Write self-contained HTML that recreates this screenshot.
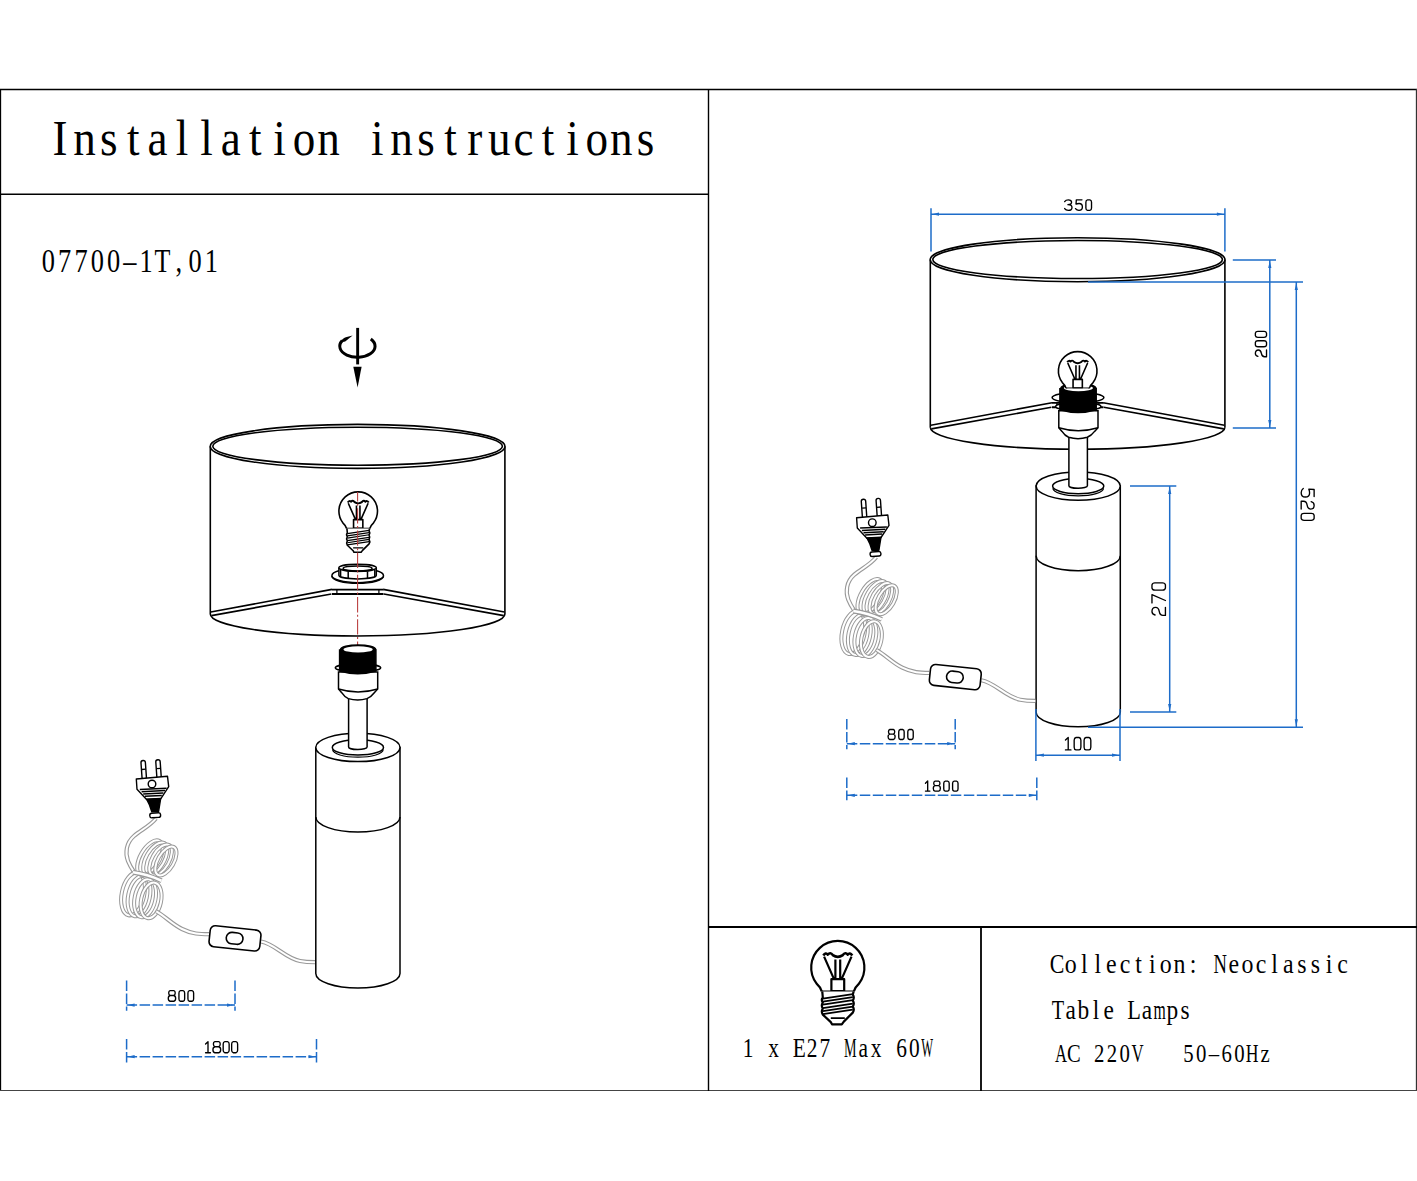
<!DOCTYPE html>
<html><head><meta charset="utf-8"><title>Installation instructions</title>
<style>html,body{margin:0;padding:0;background:#fff;width:1417px;height:1181px;overflow:hidden;}svg{display:block;}</style>
</head><body>
<svg width="1417" height="1181" viewBox="0 0 1417 1181">
<g stroke="#000" fill="none">
<line x1="0" y1="89.5" x2="1417" y2="89.5" stroke-width="1.3"/>
<line x1="0.5" y1="89" x2="0.5" y2="1091" stroke-width="1.3"/>
<line x1="1416.5" y1="89" x2="1416.5" y2="1091" stroke-width="1.3" stroke="#333"/>
<line x1="0" y1="1090.5" x2="1417" y2="1090.5" stroke-width="1.2" stroke="#444"/>
<line x1="708.5" y1="89" x2="708.5" y2="1091" stroke-width="1.4"/>
<line x1="0" y1="194.2" x2="708.5" y2="194.2" stroke-width="1.6"/>
<line x1="708" y1="927" x2="1417" y2="927" stroke-width="1.8"/>
<line x1="981" y1="927" x2="981" y2="1091" stroke-width="1.8"/>
</g>
<g font-family="Liberation Serif" font-size="50.08" text-anchor="middle" fill="#000"><text transform="translate(60.00 155.00) scale(0.900 1)">I</text><text transform="translate(84.40 155.00) scale(0.900 1)">n</text><text transform="translate(108.80 155.00) scale(0.900 1)">s</text><text transform="translate(133.20 155.00) scale(0.900 1)">t</text><text transform="translate(157.60 155.00) scale(0.900 1)">a</text><text transform="translate(182.00 155.00) scale(0.900 1)">l</text><text transform="translate(206.40 155.00) scale(0.900 1)">l</text><text transform="translate(230.80 155.00) scale(0.900 1)">a</text><text transform="translate(255.20 155.00) scale(0.900 1)">t</text><text transform="translate(279.60 155.00) scale(0.900 1)">i</text><text transform="translate(304.00 155.00) scale(0.900 1)">o</text><text transform="translate(328.40 155.00) scale(0.900 1)">n</text><text transform="translate(377.20 155.00) scale(0.900 1)">i</text><text transform="translate(401.60 155.00) scale(0.900 1)">n</text><text transform="translate(426.00 155.00) scale(0.900 1)">s</text><text transform="translate(450.40 155.00) scale(0.900 1)">t</text><text transform="translate(474.80 155.00) scale(0.900 1)">r</text><text transform="translate(499.20 155.00) scale(0.900 1)">u</text><text transform="translate(523.60 155.00) scale(0.900 1)">c</text><text transform="translate(548.00 155.00) scale(0.900 1)">t</text><text transform="translate(572.40 155.00) scale(0.900 1)">i</text><text transform="translate(596.80 155.00) scale(0.900 1)">o</text><text transform="translate(621.20 155.00) scale(0.900 1)">n</text><text transform="translate(645.60 155.00) scale(0.900 1)">s</text></g>
<g font-family="Liberation Serif" font-size="32.98" text-anchor="middle" fill="#000"><text transform="translate(48.40 272.20) scale(0.800 1)">0</text><text transform="translate(64.70 272.20) scale(0.800 1)">7</text><text transform="translate(81.00 272.20) scale(0.800 1)">7</text><text transform="translate(97.30 272.20) scale(0.800 1)">0</text><text transform="translate(113.60 272.20) scale(0.800 1)">0</text><text transform="translate(129.90 272.20) scale(0.800 1)">–</text><text transform="translate(146.20 272.20) scale(0.800 1)">1</text><text transform="translate(162.50 272.20) scale(0.789 1)">T</text><text transform="translate(178.80 272.20) scale(0.800 1)">,</text><text transform="translate(195.10 272.20) scale(0.800 1)">0</text><text transform="translate(211.40 272.20) scale(0.800 1)">1</text></g>
<g font-family="Liberation Serif" font-size="26.72" text-anchor="middle" fill="#000"><text transform="translate(748.00 1056.70) scale(0.800 1)">1</text><text transform="translate(773.60 1056.70) scale(0.800 1)">x</text><text transform="translate(799.20 1056.70) scale(0.800 1)">E</text><text transform="translate(812.00 1056.70) scale(0.800 1)">2</text><text transform="translate(824.80 1056.70) scale(0.800 1)">7</text><text transform="translate(850.40 1056.70) scale(0.530 1)">M</text><text transform="translate(863.20 1056.70) scale(0.800 1)">a</text><text transform="translate(876.00 1056.70) scale(0.800 1)">x</text><text transform="translate(901.60 1056.70) scale(0.800 1)">6</text><text transform="translate(914.40 1056.70) scale(0.800 1)">0</text><text transform="translate(927.20 1056.70) scale(0.468 1)">W</text></g>
<g font-family="Liberation Serif" font-size="28.09" text-anchor="middle" fill="#000"><text transform="translate(1057.00 972.50) scale(0.780 1)">C</text><text transform="translate(1070.60 972.50) scale(0.850 1)">o</text><text transform="translate(1084.20 972.50) scale(0.850 1)">l</text><text transform="translate(1097.80 972.50) scale(0.850 1)">l</text><text transform="translate(1111.40 972.50) scale(0.850 1)">e</text><text transform="translate(1125.00 972.50) scale(0.850 1)">c</text><text transform="translate(1138.60 972.50) scale(0.850 1)">t</text><text transform="translate(1152.20 972.50) scale(0.850 1)">i</text><text transform="translate(1165.80 972.50) scale(0.850 1)">o</text><text transform="translate(1179.40 972.50) scale(0.850 1)">n</text><text transform="translate(1193.00 972.50) scale(0.850 1)">:</text><text transform="translate(1220.20 972.50) scale(0.664 1)">N</text><text transform="translate(1233.80 972.50) scale(0.850 1)">e</text><text transform="translate(1247.40 972.50) scale(0.850 1)">o</text><text transform="translate(1261.00 972.50) scale(0.850 1)">c</text><text transform="translate(1274.60 972.50) scale(0.850 1)">l</text><text transform="translate(1288.20 972.50) scale(0.850 1)">a</text><text transform="translate(1301.80 972.50) scale(0.850 1)">s</text><text transform="translate(1315.40 972.50) scale(0.850 1)">s</text><text transform="translate(1329.00 972.50) scale(0.850 1)">i</text><text transform="translate(1342.60 972.50) scale(0.850 1)">c</text></g>
<g font-family="Liberation Serif" font-size="27.48" text-anchor="middle" fill="#000"><text transform="translate(1058.00 1019.00) scale(0.738 1)">T</text><text transform="translate(1070.70 1019.00) scale(0.850 1)">a</text><text transform="translate(1083.40 1019.00) scale(0.850 1)">b</text><text transform="translate(1096.10 1019.00) scale(0.850 1)">l</text><text transform="translate(1108.80 1019.00) scale(0.850 1)">e</text><text transform="translate(1134.20 1019.00) scale(0.815 1)">L</text><text transform="translate(1146.90 1019.00) scale(0.850 1)">a</text><text transform="translate(1159.60 1019.00) scale(0.574 1)">m</text><text transform="translate(1172.30 1019.00) scale(0.850 1)">p</text><text transform="translate(1185.00 1019.00) scale(0.850 1)">s</text></g>
<g font-family="Liberation Serif" font-size="25.95" text-anchor="middle" fill="#000"><text transform="translate(1061.00 1062.00) scale(0.641 1)">A</text><text transform="translate(1073.75 1062.00) scale(0.792 1)">C</text><text transform="translate(1099.25 1062.00) scale(0.800 1)">2</text><text transform="translate(1112.00 1062.00) scale(0.800 1)">2</text><text transform="translate(1124.75 1062.00) scale(0.800 1)">0</text><text transform="translate(1137.50 1062.00) scale(0.646 1)">V</text><text transform="translate(1188.50 1062.00) scale(0.800 1)">5</text><text transform="translate(1201.25 1062.00) scale(0.800 1)">0</text><text transform="translate(1214.00 1062.00) scale(0.800 1)">–</text><text transform="translate(1226.75 1062.00) scale(0.800 1)">6</text><text transform="translate(1239.50 1062.00) scale(0.800 1)">0</text><text transform="translate(1252.25 1062.00) scale(0.681 1)">H</text><text transform="translate(1265.00 1062.00) scale(0.800 1)">z</text></g>
<defs><g id="bulb" fill="none" stroke="#000" stroke-width="2.2" stroke-linejoin="round">
<path d="M-16,23.9 Q-17,19.8 -21.2,16 A26.6,26.6 0 1 1 21.2,16 Q17,19.8 16,23.9" fill="#fff"/>
<path d="M-13.7,-11 L-4,11 M13.7,-11 L4,11 M-2.4,-8 L-2.4,11.6 M2.4,-8 L2.4,11.6"/>
<path d="M-14.5,-12 Q-12,-15.5 -10,-13 Q-7.5,-16 -5,-12.5 Q0,-9 5,-12.5 Q7.5,-16 10,-13 Q12,-15.5 14.5,-12" stroke-width="2.6"/>
<rect x="-6.4" y="11.6" width="12.8" height="12" fill="#fff"/>
<path d="M-16,24.2 L16,24.2" stroke-width="2.8"/>
<path d="M-15.5,24 L-15,30 Q-17,32 -15,35 Q-17,38 -15,41 Q-17,44 -15,47 L-7,54.5 L-5.8,56.7 L4,56.7 L6,54 L15,45 Q17,42 15,39 Q17,36 15,33 Q17,30 15,27 L15.8,24" fill="#fff"/>
<path d="M-15,31 L15,26.5 M-15,34 L15,29.5 M-15,37 L15,32.5 M-15,40.5 L15,36 M-15,43.5 L15,39 M-15,46.5 L15,42 M-7,50.5 L7,50.5" stroke-width="1.7"/>
</g></defs>
<g id="shade" fill="none" stroke="#000" stroke-width="1.6">
<ellipse cx="357.6" cy="446.4" rx="147.4" ry="22"/>
<ellipse cx="357.6" cy="446.2" rx="144.8" ry="19"/>
<line x1="210.3" y1="446.4" x2="210.3" y2="614"/>
<line x1="504.9" y1="446.4" x2="504.9" y2="614"/>
<path d="M210.3,614 A147.3,22 0 0 0 504.9,614"/>
<path d="M210.8,612 L332,589.4 M211.4,615.6 L331.4,594 M504.4,612 L383.2,589.4 M503.8,615.6 L383.8,594"/>
<path d="M332,589.6 L383.5,589.6 M332,594 L383.5,594" stroke-width="1.9"/>
<path d="M336.9,589.6 L336.9,594 M378.9,589.6 L378.9,594" stroke-width="1.2"/>
</g>
<g id="nut" fill="#fff" stroke="#000" stroke-width="1.5">
<path d="M331.9,576 A25.8,7.3 0 0 0 383.5,576" fill="none"/>
<ellipse cx="357.7" cy="575.5" rx="25.8" ry="7.2"/>
<path d="M338.9,567.8 L338.9,575.3 A18.7,3.6 0 0 0 376.3,575.3 L376.3,567.8"/>
<ellipse cx="357.6" cy="567.8" rx="18.7" ry="3.5"/>
<ellipse cx="357.6" cy="568.4" rx="14.5" ry="2.5" fill="none"/>
<path d="M343.5,569.5 A14.1,2.2 0 0 0 371.7,569.5" fill="none" stroke-width="1"/>
<path d="M348.2,571.5 L348.2,578.8 M367.5,571.5 L367.5,578.8 M340.6,570 L340.6,577 M374.8,570 L374.8,577" fill="none"/>
</g>
<use href="#bulb" transform="translate(358.2 511.2) scale(0.725)"/>
<line x1="357.6" y1="492" x2="357.6" y2="645.5" stroke="#b83a3a" stroke-width="1.05" stroke-dasharray="15.4 2.4 2 2.4" stroke-dashoffset="6"/>
<g id="base" fill="#fff" stroke="#000" stroke-width="1.5">
<path d="M315.8,747.4 L315.8,973.5 A42.1,14.5 0 0 0 400,973.5 L400,747.4 Z"/>
<ellipse cx="357.9" cy="747.4" rx="42.1" ry="14.2"/>
<path d="M315.8,817 A42.1,15 0 0 0 400,817" fill="none"/>
<ellipse cx="357.9" cy="747.4" rx="25.6" ry="7.6"/>
<path d="M332.6,749.6 A25.3,7.6 0 0 0 383.2,749.6" fill="none" stroke-width="1.2"/>
<path d="M348.6,698 L348.6,747 A9.25,2.6 0 0 0 367.1,747 L367.1,698 Z"/>
<ellipse cx="358" cy="667.8" rx="22.7" ry="3.7"/>
<path d="M338.5,672 L338.5,689 L341.7,692.7 Q344.5,697 348.3,698.6 Q357.8,701.5 367,698.6 Q371,697 374.3,692.7 L377.7,689 L377.7,672 Z"/>
<path d="M338.5,689 Q358,695 377.7,689" fill="none"/>
<path d="M339.6,650 L339.6,671 Q357.8,676.5 375.9,671 L375.9,650 Z" fill="#000"/>
<ellipse cx="358.1" cy="649.3" rx="17.5" ry="4.3" fill="#000"/>
<ellipse cx="358.1" cy="649.4" rx="14.6" ry="3.1" fill="#fff" stroke="none"/>
</g>
<g id="cord">
<path d="M156,818.5 C150,826 141,830 134,836 C126,843 125,853 128,861 C130,866 132,869 134,872" fill="none" stroke="#999999" stroke-width="4.20" stroke-linecap="butt"/><path d="M156,818.5 C150,826 141,830 134,836 C126,843 125,853 128,861 C130,866 132,869 134,872" fill="none" stroke="#fff" stroke-width="2.00" stroke-linecap="butt"/>
<g fill="none" stroke="#999999" stroke-width="4.0"><ellipse cx="133.00" cy="894.00" rx="11.25" ry="21.70" transform="rotate(12.0 133.00 894.00)"/></g><g fill="none" stroke="#fff" stroke-width="2.0"><ellipse cx="133.00" cy="894.00" rx="11.25" ry="21.70" transform="rotate(12.0 133.00 894.00)"/></g>
<g fill="none" stroke="#999999" stroke-width="4.0"><ellipse cx="139.03" cy="896.13" rx="10.83" ry="20.50" transform="rotate(12.0 139.03 896.13)"/></g><g fill="none" stroke="#fff" stroke-width="2.0"><ellipse cx="139.03" cy="896.13" rx="10.83" ry="20.50" transform="rotate(12.0 139.03 896.13)"/></g>
<g fill="none" stroke="#999999" stroke-width="4.0"><ellipse cx="145.07" cy="898.27" rx="10.42" ry="19.30" transform="rotate(12.0 145.07 898.27)"/></g><g fill="none" stroke="#fff" stroke-width="2.0"><ellipse cx="145.07" cy="898.27" rx="10.42" ry="19.30" transform="rotate(12.0 145.07 898.27)"/></g>
<g fill="none" stroke="#999999" stroke-width="4.0"><ellipse cx="151.10" cy="900.40" rx="10.00" ry="18.10" transform="rotate(12.0 151.10 900.40)"/></g><g fill="none" stroke="#fff" stroke-width="2.0"><ellipse cx="151.10" cy="900.40" rx="10.00" ry="18.10" transform="rotate(12.0 151.10 900.40)"/></g>
<g fill="none" stroke="#999999" stroke-width="4.0"><ellipse cx="149.90" cy="857.80" rx="9.60" ry="19.30" transform="rotate(30.0 149.90 857.80)"/></g><g fill="none" stroke="#fff" stroke-width="2.0"><ellipse cx="149.90" cy="857.80" rx="9.60" ry="19.30" transform="rotate(30.0 149.90 857.80)"/></g>
<g fill="none" stroke="#999999" stroke-width="4.0"><ellipse cx="155.23" cy="858.87" rx="9.07" ry="18.23" transform="rotate(30.0 155.23 858.87)"/></g><g fill="none" stroke="#fff" stroke-width="2.0"><ellipse cx="155.23" cy="858.87" rx="9.07" ry="18.23" transform="rotate(30.0 155.23 858.87)"/></g>
<g fill="none" stroke="#999999" stroke-width="4.0"><ellipse cx="160.57" cy="859.93" rx="8.53" ry="17.17" transform="rotate(30.0 160.57 859.93)"/></g><g fill="none" stroke="#fff" stroke-width="2.0"><ellipse cx="160.57" cy="859.93" rx="8.53" ry="17.17" transform="rotate(30.0 160.57 859.93)"/></g>
<g fill="none" stroke="#999999" stroke-width="4.0"><ellipse cx="165.90" cy="861.00" rx="8.00" ry="16.10" transform="rotate(30.0 165.90 861.00)"/></g><g fill="none" stroke="#fff" stroke-width="2.0"><ellipse cx="165.90" cy="861.00" rx="8.00" ry="16.10" transform="rotate(30.0 165.90 861.00)"/></g>
<path d="M133,872.3 Q147,874 161.5,880.7" fill="none" stroke="#999999" stroke-width="4.80" stroke-linecap="butt"/><path d="M133,872.3 Q147,874 161.5,880.7" fill="none" stroke="#fff" stroke-width="2.60" stroke-linecap="butt"/>
<path d="M156.3,911.3 C166,917 172,924 182,929 C192,934 200,934.2 209,934.2" fill="none" stroke="#999999" stroke-width="4.20" stroke-linecap="butt"/><path d="M156.3,911.3 C166,917 172,924 182,929 C192,934 200,934.2 209,934.2" fill="none" stroke="#fff" stroke-width="2.00" stroke-linecap="butt"/>
<path d="M261,941.5 C275,944 285,958 300,961 C306,962.2 311,962.2 315,962.2" fill="none" stroke="#999999" stroke-width="4.20" stroke-linecap="butt"/><path d="M261,941.5 C275,944 285,958 300,961 C306,962.2 311,962.2 315,962.2" fill="none" stroke="#fff" stroke-width="2.00" stroke-linecap="butt"/>
<g transform="rotate(6 235 938.4)" fill="#fff" stroke="#000" stroke-width="1.6"><rect x="209.5" y="927.9" width="51" height="21" rx="5"/><rect x="226.2" y="932.7" width="16.8" height="11.4" rx="5.7"/></g>
<g stroke="#000" stroke-width="1.4" fill="#fff" stroke-linejoin="round">
<rect x="141.5" y="760.5" width="4.4" height="19" rx="2.2" transform="rotate(-4 143.7 770)"/>
<rect x="156.3" y="759.7" width="4.4" height="19" rx="2.2" transform="rotate(-4 158.5 769.2)"/>
<path d="M141.8,769.5 L145.8,769.2 M156.6,768.6 L160.6,768.3" stroke-width="1.3"/>
<path d="M136.3,779 L167.5,776.3 L168.7,786.6 L160.7,798.8 L146.6,799.5 L137,789.3 Z"/>
<path d="M146.6,799.2 L160.7,798.5 Q159.5,806 158.6,811.5 L151.8,811.8 Q150,805 146.6,799.2 Z" fill="#000"/>
<circle cx="152" cy="784" r="3.8"/>
<path d="M139.8,789.4 L166.6,788.3 M141.6,791.7 L165,790.6 M143.2,794 L163.4,793 M144.8,796.3 L161.8,795.4" stroke-width="1.5" fill="none"/>
<rect x="149.8" y="813" width="10.8" height="4.6" rx="2" transform="rotate(-4 155 815.3)"/>
</g>
</g>
<g id="rot">
<rect x="356.2" y="327.9" width="2.9" height="36.5" fill="#000"/>
<polygon points="353.3,366.7 361.6,366.7 357.6,387.6" fill="#000"/>
<path d="M370.8,339 A17.65,11.06 0 1 1 342.2,340.6" fill="none" stroke="#000" stroke-width="3"/>
<path d="M340.6,342.6 Q342,338.6 345.8,337.2 L352.6,335.6 L345.2,341.6 Z" fill="#000"/>
</g>
<g transform="translate(720 -186.7)"><g  fill="none" stroke="#000" stroke-width="1.6">
<ellipse cx="357.6" cy="446.4" rx="147.4" ry="22"/>
<ellipse cx="357.6" cy="446.2" rx="144.8" ry="19"/>
<line x1="210.3" y1="446.4" x2="210.3" y2="614"/>
<line x1="504.9" y1="446.4" x2="504.9" y2="614"/>
<path d="M210.3,614 A147.3,22 0 0 0 504.9,614"/>
<path d="M210.8,612 L332,589.4 M211.4,615.6 L331.4,594 M504.4,612 L383.2,589.4 M503.8,615.6 L383.8,594"/>
<path d="M332,589.6 L383.5,589.6 M332,594 L383.5,594" stroke-width="1.9"/>
<path d="M336.9,589.6 L336.9,594 M378.9,589.6 L378.9,594" stroke-width="1.2"/>
</g></g>
<g transform="translate(720.3 -261.3)"><g id="flanger" fill="#fff" stroke="#000" stroke-width="1.5">
<ellipse cx="357.7" cy="658.9" rx="25.9" ry="5.1"/>
</g><g  fill="#fff" stroke="#000" stroke-width="1.5">
<path d="M315.8,747.4 L315.8,973.5 A42.1,14.5 0 0 0 400,973.5 L400,747.4 Z"/>
<ellipse cx="357.9" cy="747.4" rx="42.1" ry="14.2"/>
<path d="M315.8,817 A42.1,15 0 0 0 400,817" fill="none"/>
<ellipse cx="357.9" cy="747.4" rx="25.6" ry="7.6"/>
<path d="M332.6,749.6 A25.3,7.6 0 0 0 383.2,749.6" fill="none" stroke-width="1.2"/>
<path d="M348.6,698 L348.6,747 A9.25,2.6 0 0 0 367.1,747 L367.1,698 Z"/>
<ellipse cx="358" cy="667.8" rx="22.7" ry="3.7"/>
<path d="M338.5,672 L338.5,689 L341.7,692.7 Q344.5,697 348.3,698.6 Q357.8,701.5 367,698.6 Q371,697 374.3,692.7 L377.7,689 L377.7,672 Z"/>
<path d="M338.5,689 Q358,695 377.7,689" fill="none"/>
<path d="M339.6,650 L339.6,671 Q357.8,676.5 375.9,671 L375.9,650 Z" fill="#000"/>
<ellipse cx="358.1" cy="649.3" rx="17.5" ry="4.3" fill="#000"/>
<ellipse cx="358.1" cy="649.4" rx="14.6" ry="3.1" fill="#fff" stroke="none"/>
</g><g >
<path d="M156,818.5 C150,826 141,830 134,836 C126,843 125,853 128,861 C130,866 132,869 134,872" fill="none" stroke="#999999" stroke-width="4.20" stroke-linecap="butt"/><path d="M156,818.5 C150,826 141,830 134,836 C126,843 125,853 128,861 C130,866 132,869 134,872" fill="none" stroke="#fff" stroke-width="2.00" stroke-linecap="butt"/>
<g fill="none" stroke="#999999" stroke-width="4.0"><ellipse cx="133.00" cy="894.00" rx="11.25" ry="21.70" transform="rotate(12.0 133.00 894.00)"/></g><g fill="none" stroke="#fff" stroke-width="2.0"><ellipse cx="133.00" cy="894.00" rx="11.25" ry="21.70" transform="rotate(12.0 133.00 894.00)"/></g>
<g fill="none" stroke="#999999" stroke-width="4.0"><ellipse cx="139.03" cy="896.13" rx="10.83" ry="20.50" transform="rotate(12.0 139.03 896.13)"/></g><g fill="none" stroke="#fff" stroke-width="2.0"><ellipse cx="139.03" cy="896.13" rx="10.83" ry="20.50" transform="rotate(12.0 139.03 896.13)"/></g>
<g fill="none" stroke="#999999" stroke-width="4.0"><ellipse cx="145.07" cy="898.27" rx="10.42" ry="19.30" transform="rotate(12.0 145.07 898.27)"/></g><g fill="none" stroke="#fff" stroke-width="2.0"><ellipse cx="145.07" cy="898.27" rx="10.42" ry="19.30" transform="rotate(12.0 145.07 898.27)"/></g>
<g fill="none" stroke="#999999" stroke-width="4.0"><ellipse cx="151.10" cy="900.40" rx="10.00" ry="18.10" transform="rotate(12.0 151.10 900.40)"/></g><g fill="none" stroke="#fff" stroke-width="2.0"><ellipse cx="151.10" cy="900.40" rx="10.00" ry="18.10" transform="rotate(12.0 151.10 900.40)"/></g>
<g fill="none" stroke="#999999" stroke-width="4.0"><ellipse cx="149.90" cy="857.80" rx="9.60" ry="19.30" transform="rotate(30.0 149.90 857.80)"/></g><g fill="none" stroke="#fff" stroke-width="2.0"><ellipse cx="149.90" cy="857.80" rx="9.60" ry="19.30" transform="rotate(30.0 149.90 857.80)"/></g>
<g fill="none" stroke="#999999" stroke-width="4.0"><ellipse cx="155.23" cy="858.87" rx="9.07" ry="18.23" transform="rotate(30.0 155.23 858.87)"/></g><g fill="none" stroke="#fff" stroke-width="2.0"><ellipse cx="155.23" cy="858.87" rx="9.07" ry="18.23" transform="rotate(30.0 155.23 858.87)"/></g>
<g fill="none" stroke="#999999" stroke-width="4.0"><ellipse cx="160.57" cy="859.93" rx="8.53" ry="17.17" transform="rotate(30.0 160.57 859.93)"/></g><g fill="none" stroke="#fff" stroke-width="2.0"><ellipse cx="160.57" cy="859.93" rx="8.53" ry="17.17" transform="rotate(30.0 160.57 859.93)"/></g>
<g fill="none" stroke="#999999" stroke-width="4.0"><ellipse cx="165.90" cy="861.00" rx="8.00" ry="16.10" transform="rotate(30.0 165.90 861.00)"/></g><g fill="none" stroke="#fff" stroke-width="2.0"><ellipse cx="165.90" cy="861.00" rx="8.00" ry="16.10" transform="rotate(30.0 165.90 861.00)"/></g>
<path d="M133,872.3 Q147,874 161.5,880.7" fill="none" stroke="#999999" stroke-width="4.80" stroke-linecap="butt"/><path d="M133,872.3 Q147,874 161.5,880.7" fill="none" stroke="#fff" stroke-width="2.60" stroke-linecap="butt"/>
<path d="M156.3,911.3 C166,917 172,924 182,929 C192,934 200,934.2 209,934.2" fill="none" stroke="#999999" stroke-width="4.20" stroke-linecap="butt"/><path d="M156.3,911.3 C166,917 172,924 182,929 C192,934 200,934.2 209,934.2" fill="none" stroke="#fff" stroke-width="2.00" stroke-linecap="butt"/>
<path d="M261,941.5 C275,944 285,958 300,961 C306,962.2 311,962.2 315,962.2" fill="none" stroke="#999999" stroke-width="4.20" stroke-linecap="butt"/><path d="M261,941.5 C275,944 285,958 300,961 C306,962.2 311,962.2 315,962.2" fill="none" stroke="#fff" stroke-width="2.00" stroke-linecap="butt"/>
<g transform="rotate(6 235 938.4)" fill="#fff" stroke="#000" stroke-width="1.6"><rect x="209.5" y="927.9" width="51" height="21" rx="5"/><rect x="226.2" y="932.7" width="16.8" height="11.4" rx="5.7"/></g>
<g stroke="#000" stroke-width="1.4" fill="#fff" stroke-linejoin="round">
<rect x="141.5" y="760.5" width="4.4" height="19" rx="2.2" transform="rotate(-4 143.7 770)"/>
<rect x="156.3" y="759.7" width="4.4" height="19" rx="2.2" transform="rotate(-4 158.5 769.2)"/>
<path d="M141.8,769.5 L145.8,769.2 M156.6,768.6 L160.6,768.3" stroke-width="1.3"/>
<path d="M136.3,779 L167.5,776.3 L168.7,786.6 L160.7,798.8 L146.6,799.5 L137,789.3 Z"/>
<path d="M146.6,799.2 L160.7,798.5 Q159.5,806 158.6,811.5 L151.8,811.8 Q150,805 146.6,799.2 Z" fill="#000"/>
<circle cx="152" cy="784" r="3.8"/>
<path d="M139.8,789.4 L166.6,788.3 M141.6,791.7 L165,790.6 M143.2,794 L163.4,793 M144.8,796.3 L161.8,795.4" stroke-width="1.5" fill="none"/>
<rect x="149.8" y="813" width="10.8" height="4.6" rx="2" transform="rotate(-4 155 815.3)"/>
</g>
</g></g>
<clipPath id="bclip"><rect x="1040" y="340" width="80" height="48.5"/></clipPath>
<g clip-path="url(#bclip)"><use href="#bulb" transform="translate(1077.7 371) scale(0.725)"/></g>
<use href="#bulb" transform="translate(837.8 967.6)"/>
<g stroke="#1d6cc9" stroke-width="1.5" fill="none" stroke-dasharray="10.5 2.5">
<line x1="126.60" y1="1005.10" x2="235.00" y2="1005.10"/>
<line x1="126.60" y1="980.40" x2="126.60" y2="1010.80"/>
<line x1="235.00" y1="980.40" x2="235.00" y2="1010.80"/>
</g>
<polygon points="127.60,1005.10 134.60,1003.50 134.60,1006.70" fill="#1d6cc9"/>
<polygon points="234.00,1005.10 227.00,1006.70 227.00,1003.50" fill="#1d6cc9"/>
<g transform="translate(180.95 995.95) rotate(0)" fill="none" stroke="#000" stroke-width="1.35" stroke-linejoin="round" stroke-linecap="round"><path transform="translate(-12.68 -5.28) scale(1.0550)" d="M1.7,0 L5.3,0 Q6.6,0.3 6.6,2.2 Q6.6,4.3 5.1,4.6 L1.9,4.6 Q0.4,4.3 0.4,2.2 Q0.4,0.3 1.7,0 Z M1.9,4.6 L5.1,4.6 Q7,4.9 7,7.3 Q7,9.7 5.3,10 L1.7,10 Q0,9.7 0,7.3 Q0,4.9 1.9,4.6 Z" vector-effect="non-scaling-stroke"/><path transform="translate(-2.00 -5.28) scale(1.0550)" d="M1.5,0 L3.9,0 Q5.4,0.3 5.4,2.2 L5.4,7.8 Q5.4,9.7 3.9,10 L1.5,10 Q0,9.7 0,7.8 L0,2.2 Q0,0.3 1.5,0 Z" vector-effect="non-scaling-stroke"/><path transform="translate(6.98 -5.28) scale(1.0550)" d="M1.5,0 L3.9,0 Q5.4,0.3 5.4,2.2 L5.4,7.8 Q5.4,9.7 3.9,10 L1.5,10 Q0,9.7 0,7.8 L0,2.2 Q0,0.3 1.5,0 Z" vector-effect="non-scaling-stroke"/></g>
<g stroke="#1d6cc9" stroke-width="1.5" fill="none" stroke-dasharray="10.5 2.5">
<line x1="126.60" y1="1056.70" x2="316.50" y2="1056.70"/>
<line x1="126.60" y1="1038.90" x2="126.60" y2="1062.60"/>
<line x1="316.50" y1="1038.90" x2="316.50" y2="1062.60"/>
</g>
<polygon points="127.60,1056.70 134.60,1055.10 134.60,1058.30" fill="#1d6cc9"/>
<polygon points="315.50,1056.70 308.50,1058.30 308.50,1055.10" fill="#1d6cc9"/>
<g transform="translate(221.60 1047.20) rotate(0)" fill="none" stroke="#000" stroke-width="1.35" stroke-linejoin="round" stroke-linecap="round"><path transform="translate(-16.03 -5.53) scale(1.1050)" d="M0,2.1 L2.2,0 L2.2,10 M0,10 L4.4,10" vector-effect="non-scaling-stroke"/><path transform="translate(-8.66 -5.53) scale(1.1050)" d="M1.7,0 L5.3,0 Q6.6,0.3 6.6,2.2 Q6.6,4.3 5.1,4.6 L1.9,4.6 Q0.4,4.3 0.4,2.2 Q0.4,0.3 1.7,0 Z M1.9,4.6 L5.1,4.6 Q7,4.9 7,7.3 Q7,9.7 5.3,10 L1.7,10 Q0,9.7 0,7.3 Q0,4.9 1.9,4.6 Z" vector-effect="non-scaling-stroke"/><path transform="translate(1.58 -5.53) scale(1.1050)" d="M1.5,0 L3.9,0 Q5.4,0.3 5.4,2.2 L5.4,7.8 Q5.4,9.7 3.9,10 L1.5,10 Q0,9.7 0,7.8 L0,2.2 Q0,0.3 1.5,0 Z" vector-effect="non-scaling-stroke"/><path transform="translate(10.06 -5.53) scale(1.1050)" d="M1.5,0 L3.9,0 Q5.4,0.3 5.4,2.2 L5.4,7.8 Q5.4,9.7 3.9,10 L1.5,10 Q0,9.7 0,7.8 L0,2.2 Q0,0.3 1.5,0 Z" vector-effect="non-scaling-stroke"/></g>
<g stroke="#1d6cc9" stroke-width="1.5" fill="none" stroke-dasharray="10.5 2.5">
<line x1="846.80" y1="743.70" x2="955.20" y2="743.70"/>
<line x1="846.80" y1="719.00" x2="846.80" y2="749.30"/>
<line x1="955.20" y1="719.00" x2="955.20" y2="749.30"/>
</g>
<polygon points="847.80,743.70 854.80,742.10 854.80,745.30" fill="#1d6cc9"/>
<polygon points="954.20,743.70 947.20,745.30 947.20,742.10" fill="#1d6cc9"/>
<g transform="translate(900.65 734.50) rotate(0)" fill="none" stroke="#000" stroke-width="1.35" stroke-linejoin="round" stroke-linecap="round"><path transform="translate(-12.57 -5.03) scale(1.0050)" d="M1.7,0 L5.3,0 Q6.6,0.3 6.6,2.2 Q6.6,4.3 5.1,4.6 L1.9,4.6 Q0.4,4.3 0.4,2.2 Q0.4,0.3 1.7,0 Z M1.9,4.6 L5.1,4.6 Q7,4.9 7,7.3 Q7,9.7 5.3,10 L1.7,10 Q0,9.7 0,7.3 Q0,4.9 1.9,4.6 Z" vector-effect="non-scaling-stroke"/><path transform="translate(-1.91 -5.03) scale(1.0050)" d="M1.5,0 L3.9,0 Q5.4,0.3 5.4,2.2 L5.4,7.8 Q5.4,9.7 3.9,10 L1.5,10 Q0,9.7 0,7.8 L0,2.2 Q0,0.3 1.5,0 Z" vector-effect="non-scaling-stroke"/><path transform="translate(7.15 -5.03) scale(1.0050)" d="M1.5,0 L3.9,0 Q5.4,0.3 5.4,2.2 L5.4,7.8 Q5.4,9.7 3.9,10 L1.5,10 Q0,9.7 0,7.8 L0,2.2 Q0,0.3 1.5,0 Z" vector-effect="non-scaling-stroke"/></g>
<g stroke="#1d6cc9" stroke-width="1.5" fill="none" stroke-dasharray="10.5 2.5">
<line x1="846.80" y1="795.30" x2="1036.80" y2="795.30"/>
<line x1="846.80" y1="777.40" x2="846.80" y2="800.20"/>
<line x1="1036.80" y1="777.40" x2="1036.80" y2="800.20"/>
</g>
<polygon points="847.80,795.30 854.80,793.70 854.80,796.90" fill="#1d6cc9"/>
<polygon points="1035.80,795.30 1028.80,796.90 1028.80,793.70" fill="#1d6cc9"/>
<g transform="translate(941.75 786.10) rotate(0)" fill="none" stroke="#000" stroke-width="1.35" stroke-linejoin="round" stroke-linecap="round"><path transform="translate(-16.28 -5.03) scale(1.0050)" d="M0,2.1 L2.2,0 L2.2,10 M0,10 L4.4,10" vector-effect="non-scaling-stroke"/><path transform="translate(-8.44 -5.03) scale(1.0050)" d="M1.7,0 L5.3,0 Q6.6,0.3 6.6,2.2 Q6.6,4.3 5.1,4.6 L1.9,4.6 Q0.4,4.3 0.4,2.2 Q0.4,0.3 1.7,0 Z M1.9,4.6 L5.1,4.6 Q7,4.9 7,7.3 Q7,9.7 5.3,10 L1.7,10 Q0,9.7 0,7.3 Q0,4.9 1.9,4.6 Z" vector-effect="non-scaling-stroke"/><path transform="translate(2.01 -5.03) scale(1.0050)" d="M1.5,0 L3.9,0 Q5.4,0.3 5.4,2.2 L5.4,7.8 Q5.4,9.7 3.9,10 L1.5,10 Q0,9.7 0,7.8 L0,2.2 Q0,0.3 1.5,0 Z" vector-effect="non-scaling-stroke"/><path transform="translate(10.85 -5.03) scale(1.0050)" d="M1.5,0 L3.9,0 Q5.4,0.3 5.4,2.2 L5.4,7.8 Q5.4,9.7 3.9,10 L1.5,10 Q0,9.7 0,7.8 L0,2.2 Q0,0.3 1.5,0 Z" vector-effect="non-scaling-stroke"/></g>
<g stroke="#1d6cc9" stroke-width="1.5" fill="none">
<line x1="931.00" y1="214.20" x2="1224.90" y2="214.20"/>
<line x1="931.00" y1="208.20" x2="931.00" y2="251.50"/>
<line x1="1224.90" y1="208.20" x2="1224.90" y2="251.50"/>
</g>
<polygon points="932.00,214.20 939.00,212.60 939.00,215.80" fill="#1d6cc9"/>
<polygon points="1223.90,214.20 1216.90,215.80 1216.90,212.60" fill="#1d6cc9"/>
<g transform="translate(1078.10 205.10) rotate(0)" fill="none" stroke="#000" stroke-width="1.35" stroke-linejoin="round" stroke-linecap="round"><path transform="translate(-13.43 -5.23) scale(1.0450)" d="M0,1.7 Q1.2,0 3.4,0 Q6.6,0 6.6,2.3 Q6.6,4.6 3.1,4.6 Q7,4.6 7,7.2 Q7,10 3.5,10 Q1.1,10 0,8.3" vector-effect="non-scaling-stroke"/><path transform="translate(-2.61 -5.23) scale(1.0450)" d="M6.2,0 L0.8,0 L0.5,4.1 Q1.8,3.5 3.4,3.5 Q6.6,3.5 6.6,6.8 Q6.6,10 3.3,10 Q1.2,10 0,8.4" vector-effect="non-scaling-stroke"/><path transform="translate(7.78 -5.23) scale(1.0450)" d="M1.5,0 L3.9,0 Q5.4,0.3 5.4,2.2 L5.4,7.8 Q5.4,9.7 3.9,10 L1.5,10 Q0,9.7 0,7.8 L0,2.2 Q0,0.3 1.5,0 Z" vector-effect="non-scaling-stroke"/></g>
<g stroke="#1d6cc9" stroke-width="1.5" fill="none">
<line x1="1035.90" y1="755.20" x2="1120.00" y2="755.20"/>
<line x1="1035.90" y1="709.00" x2="1035.90" y2="761.00"/>
<line x1="1120.00" y1="709.00" x2="1120.00" y2="761.00"/>
</g>
<polygon points="1036.90,755.20 1043.90,753.60 1043.90,756.80" fill="#1d6cc9"/>
<polygon points="1119.00,755.20 1112.00,756.80 1112.00,753.60" fill="#1d6cc9"/>
<g transform="translate(1078.15 743.70) rotate(0)" fill="none" stroke="#000" stroke-width="1.35" stroke-linejoin="round" stroke-linecap="round"><path transform="translate(-12.68 -6.23) scale(1.2450)" d="M0,2.1 L2.2,0 L2.2,10 M0,10 L4.4,10" vector-effect="non-scaling-stroke"/><path transform="translate(-3.98 -6.23) scale(1.2450)" d="M1.5,0 L3.9,0 Q5.4,0.3 5.4,2.2 L5.4,7.8 Q5.4,9.7 3.9,10 L1.5,10 Q0,9.7 0,7.8 L0,2.2 Q0,0.3 1.5,0 Z" vector-effect="non-scaling-stroke"/><path transform="translate(5.95 -6.23) scale(1.2450)" d="M1.5,0 L3.9,0 Q5.4,0.3 5.4,2.2 L5.4,7.8 Q5.4,9.7 3.9,10 L1.5,10 Q0,9.7 0,7.8 L0,2.2 Q0,0.3 1.5,0 Z" vector-effect="non-scaling-stroke"/></g>
<g stroke="#1d6cc9" stroke-width="1.5" fill="none">
<line x1="1269.80" y1="260.10" x2="1269.80" y2="428.00"/>
<line x1="1232.80" y1="260.10" x2="1276.00" y2="260.10"/>
<line x1="1232.80" y1="428.00" x2="1276.00" y2="428.00"/>
</g>
<polygon points="1269.80,261.10 1271.40,268.10 1268.20,268.10" fill="#1d6cc9"/>
<polygon points="1269.80,427.00 1268.20,420.00 1271.40,420.00" fill="#1d6cc9"/>
<g transform="translate(1260.95 344.05) rotate(-90)" fill="none" stroke="#000" stroke-width="1.35" stroke-linejoin="round" stroke-linecap="round"><path transform="translate(-12.67 -5.58) scale(1.1150)" d="M0.3,2.3 Q1,0 3,0 Q6,0 6,2.7 Q6,4.9 3,5.4 Q0,5.9 0,8.2 L0,10 L6,10" vector-effect="non-scaling-stroke"/><path transform="translate(-2.68 -5.58) scale(1.1150)" d="M1.5,0 L3.9,0 Q5.4,0.3 5.4,2.2 L5.4,7.8 Q5.4,9.7 3.9,10 L1.5,10 Q0,9.7 0,7.8 L0,2.2 Q0,0.3 1.5,0 Z" vector-effect="non-scaling-stroke"/><path transform="translate(6.65 -5.58) scale(1.1150)" d="M1.5,0 L3.9,0 Q5.4,0.3 5.4,2.2 L5.4,7.8 Q5.4,9.7 3.9,10 L1.5,10 Q0,9.7 0,7.8 L0,2.2 Q0,0.3 1.5,0 Z" vector-effect="non-scaling-stroke"/></g>
<g stroke="#1d6cc9" stroke-width="1.5" fill="none">
<line x1="1296.30" y1="282.00" x2="1296.30" y2="727.30"/>
<line x1="1088.00" y1="282.00" x2="1303.00" y2="282.00"/>
<line x1="1088.00" y1="727.30" x2="1303.00" y2="727.30"/>
</g>
<polygon points="1296.30,283.00 1297.90,290.00 1294.70,290.00" fill="#1d6cc9"/>
<polygon points="1296.30,726.30 1294.70,719.30 1297.90,719.30" fill="#1d6cc9"/>
<g transform="translate(1307.65 504.40) rotate(90)" fill="none" stroke="#000" stroke-width="1.35" stroke-linejoin="round" stroke-linecap="round"><path transform="translate(-15.92 -6.48) scale(1.2950)" d="M6.2,0 L0.8,0 L0.5,4.1 Q1.8,3.5 3.4,3.5 Q6.6,3.5 6.6,6.8 Q6.6,10 3.3,10 Q1.2,10 0,8.4" vector-effect="non-scaling-stroke"/><path transform="translate(-3.11 -6.48) scale(1.2950)" d="M0.3,2.3 Q1,0 3,0 Q6,0 6,2.7 Q6,4.9 3,5.4 Q0,5.9 0,8.2 L0,10 L6,10" vector-effect="non-scaling-stroke"/><path transform="translate(8.93 -6.48) scale(1.2950)" d="M1.5,0 L3.9,0 Q5.4,0.3 5.4,2.2 L5.4,7.8 Q5.4,9.7 3.9,10 L1.5,10 Q0,9.7 0,7.8 L0,2.2 Q0,0.3 1.5,0 Z" vector-effect="non-scaling-stroke"/></g>
<g stroke="#1d6cc9" stroke-width="1.5" fill="none">
<line x1="1169.70" y1="486.10" x2="1169.70" y2="712.00"/>
<line x1="1130.00" y1="486.10" x2="1176.30" y2="486.10"/>
<line x1="1130.00" y1="712.00" x2="1176.30" y2="712.00"/>
</g>
<polygon points="1169.70,487.10 1171.30,494.10 1168.10,494.10" fill="#1d6cc9"/>
<polygon points="1169.70,711.00 1168.10,704.00 1171.30,704.00" fill="#1d6cc9"/>
<g transform="translate(1158.70 599.15) rotate(-90)" fill="none" stroke="#000" stroke-width="1.35" stroke-linejoin="round" stroke-linecap="round"><path transform="translate(-16.27 -6.73) scale(1.3450)" d="M0.3,2.3 Q1,0 3,0 Q6,0 6,2.7 Q6,4.9 3,5.4 Q0,5.9 0,8.2 L0,10 L6,10" vector-effect="non-scaling-stroke"/><path transform="translate(-3.77 -6.73) scale(1.3450)" d="M0,0 L6.2,0 L1.8,10" vector-effect="non-scaling-stroke"/><path transform="translate(9.01 -6.73) scale(1.3450)" d="M1.5,0 L3.9,0 Q5.4,0.3 5.4,2.2 L5.4,7.8 Q5.4,9.7 3.9,10 L1.5,10 Q0,9.7 0,7.8 L0,2.2 Q0,0.3 1.5,0 Z" vector-effect="non-scaling-stroke"/></g>
</svg>
</body></html>
